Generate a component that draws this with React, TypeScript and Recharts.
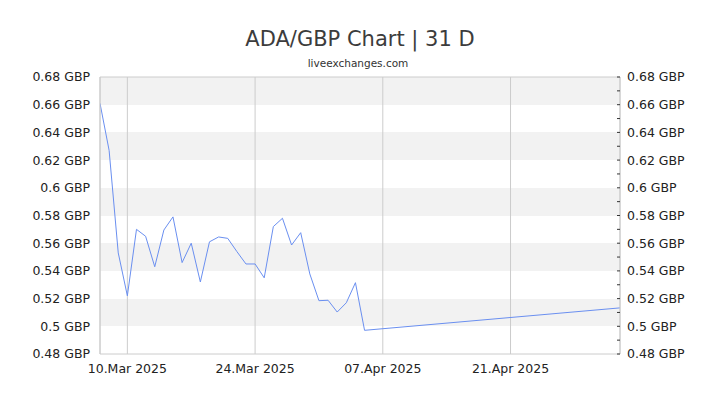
import React from 'react';
import { LineChart, Line, XAxis, YAxis, CartesianGrid, ReferenceLine } from 'recharts';

const dates: string[] = [
  '2025-03-07', '2025-03-08', '2025-03-09', '2025-03-10', '2025-03-11', '2025-03-12',
  '2025-03-13', '2025-03-14', '2025-03-15', '2025-03-16', '2025-03-17', '2025-03-18',
  '2025-03-19', '2025-03-20', '2025-03-21', '2025-03-22', '2025-03-23', '2025-03-24',
  '2025-03-25', '2025-03-26', '2025-03-27', '2025-03-28', '2025-03-29', '2025-03-30',
  '2025-03-31', '2025-04-01', '2025-04-02', '2025-04-03', '2025-04-04', '2025-04-05',
  '2025-05-03',
];

const rates: number[] = [
  0.661, 0.627, 0.553, 0.522, 0.570, 0.565,
  0.543, 0.5695, 0.579, 0.546, 0.560, 0.532,
  0.561, 0.5645, 0.5635, 0.554, 0.545, 0.545,
  0.535, 0.572, 0.578, 0.5587, 0.5676, 0.5378,
  0.5185, 0.5188, 0.5103, 0.517, 0.5315, 0.4971,
  0.5133,
];

const xTickDates: string[] = ['2025-03-10', '2025-03-24', '2025-04-07', '2025-04-21'];
const xTickLabels: string[] = ['10.Mar 2025', '24.Mar 2025', '07.Apr 2025', '21.Apr 2025'];
const xDomainDates: string[] = ['2025-03-07', '2025-05-03'];

const yTicks: number[] = [0.48, 0.5, 0.52, 0.54, 0.56, 0.58, 0.6, 0.62, 0.64, 0.66, 0.68];
const yMinorTicks: number[] = [
  0.48, 0.49, 0.5, 0.51, 0.52, 0.53, 0.54, 0.55, 0.56, 0.57, 0.58,
  0.59, 0.6, 0.61, 0.62, 0.63, 0.64, 0.65, 0.66, 0.67, 0.68,
];

const toTs = (d: string) => Date.parse(d + 'T00:00:00Z');

const data = dates.map((d, i) => ({ t: toTs(d), v: rates[i] }));
const xTicks = xTickDates.map(toTs);
const xLabelMap: Record<number, string> = {};
xTicks.forEach((t, i) => { xLabelMap[t] = xTickLabels[i]; });

const FONT = '"DejaVu Sans", Verdana, sans-serif';
const tickStyle = { fontSize: 12.5, fill: '#222', fontFamily: FONT };

const fmtY = (v: number) => `${Math.round(v * 100) / 100} GBP`;
const fmtYRight = (v: number) => {
  const k = Math.round(v * 100);
  return k % 2 === 0 ? `${k / 100} GBP` : '';
};

export default function App() {
  return (
    <div style={{ position: 'fixed', left: 0, top: 0, width: 720, height: 405, background: '#fff' }}>
      <LineChart
        width={720}
        height={405}
        data={data}
        margin={{ top: 77, right: 0, bottom: 21, left: 0 }}
        style={{ fontFamily: FONT }}
      >
        <CartesianGrid
          yAxisId="left"
          vertical={false}
          stroke="transparent"
          horizontalFill={['#f2f2f2', '#ffffff']}
          fillOpacity={1}
        />
        <CartesianGrid yAxisId="left" horizontal={false} stroke="#cccccc" />
        <XAxis
          dataKey="t"
          type="number"
          scale="time"
          domain={xDomainDates.map(toTs)}
          ticks={xTicks}
          tickFormatter={(t: number) => xLabelMap[t] ?? ''}
          tick={tickStyle}
          tickLine={false}
          tickSize={0}
          tickMargin={10}
          axisLine={{ stroke: '#cccccc' }}
          height={30}
          interval={0}
          allowDataOverflow
        />
        <YAxis
          yAxisId="left"
          orientation="left"
          domain={[0.48, 0.68]}
          ticks={yTicks}
          tickFormatter={fmtY}
          tick={tickStyle}
          tickLine={false}
          tickSize={0}
          tickMargin={10}
          axisLine={{ stroke: '#cccccc' }}
          width={100}
          interval={0}
          allowDataOverflow
        />
        <YAxis
          yAxisId="right"
          orientation="right"
          domain={[0.48, 0.68]}
          ticks={yMinorTicks}
          tickFormatter={fmtYRight}
          tick={{ ...tickStyle, textAnchor: 'start' }}
          tickLine={{ stroke: '#333' }}
          tickSize={-3}
          tickMargin={10}
          axisLine={{ stroke: '#cccccc' }}
          width={100}
          interval={0}
          allowDataOverflow
        />
        <ReferenceLine yAxisId="left" y={0.68} stroke="#cccccc" />
        <Line
          yAxisId="left"
          type="linear"
          dataKey="v"
          stroke="#6a8ff0"
          strokeWidth={1}
          dot={false}
          activeDot={false}
          isAnimationActive={false}
        />
      </LineChart>
      <svg
        width={720}
        height={405}
        style={{ position: 'absolute', left: 0, top: 0, pointerEvents: 'none' }}
      >
        <text x={360} y={46.3} textAnchor="middle" fontFamily={FONT} fontSize={21} fill="#3c3c3c">
          ADA/GBP Chart | 31 D
        </text>
        <text x={358} y={67} textAnchor="middle" fontFamily={FONT} fontSize={10.5} fill="#333">
          liveexchanges.com
        </text>
      </svg>
    </div>
  );
}
